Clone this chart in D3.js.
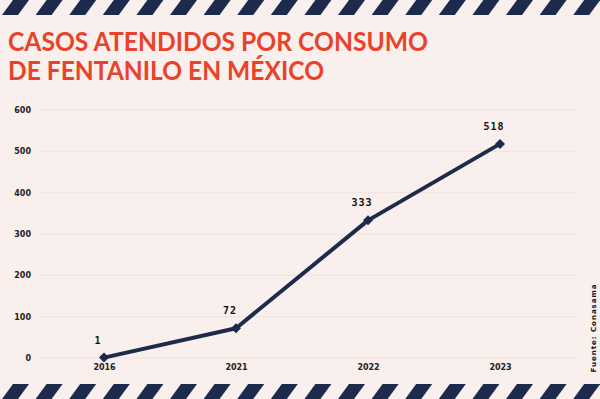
<!DOCTYPE html>
<html>
<body style="margin: 0">
  <script src="https://d3js.org/d3.v7.min.js"></script>

  <script>
    const years = ["2016", "2021", "2022", "2023"];
    const casos = [1, 72, 333, 518];
    const yTicks = [0, 100, 200, 300, 400, 500, 600];
    const titleLines = ["CASOS ATENDIDOS POR CONSUMO", "DE FENTANILO EN MÉXICO"];
    const fuente = "Fuente: Conasama";

    const W = 600, H = 399;
    const NAVY = "#1c2a4b";
    const RED = "#e8432a";
    const BG = "#f9efec";

    const svg = d3.select("body").append("svg")
      .attr("width", W)
      .attr("height", H)
      .style("display", "block");

    svg.append("rect").attr("width", W).attr("height", H).attr("fill", BG);

    // striped bands top and bottom
    const stripes = d3.range(-2, 20);
    const drawBand = (y0, h) => {
      svg.append("g").selectAll("path")
        .data(stripes)
        .enter()
        .append("path")
        .attr("d", (i) => {
          const x = 2 + i * 33.6;
          return `M${x},${y0 + h} L${x + 16},${y0 + h} L${x + 27},${y0} L${x + 11},${y0} Z`;
        })
        .attr("fill", NAVY);
    };
    drawBand(0, 15);
    drawBand(384, 15);

    // title
    svg.append("g").selectAll("text")
      .data(titleLines)
      .enter()
      .append("text")
      .attr("x", 8)
      .attr("y", (d, i) => 51 + i * 29)
      .attr("fill", RED)
      .attr("textLength", (d, i) => i === 0 ? 420 : 316)
      .attr("lengthAdjust", "spacingAndGlyphs")
      .style("font-family", "Lato, 'Open Sans', sans-serif")
      .style("font-weight", "bold")
      .style("font-size", "26px")
      .text((d) => d);

    const x = d3.scalePoint().domain(years).range([104, 500]);
    const y = d3.scaleLinear().domain([0, 600]).range([358, 110]);

    // grid
    svg.append("g").selectAll("line")
      .data(yTicks)
      .enter()
      .append("line")
      .attr("x1", 40).attr("x2", 578)
      .attr("y1", (d) => y(d)).attr("y2", (d) => y(d))
      .attr("stroke", "#f1e2de")
      .attr("stroke-width", 1);

    const yAxis = svg.append("g")
      .attr("transform", "translate(31,0)")
      .call(d3.axisLeft(y).tickValues(yTicks).tickSize(0).tickPadding(0));
    yAxis.select(".domain").remove();
    yAxis.selectAll("text")
      .attr("fill", "#222")
      .style("font-family", "'DejaVu Sans', sans-serif")
      .style("font-weight", "bold")
      .style("font-size", "8px");

    const xAxis = svg.append("g")
      .attr("transform", "translate(0,364)")
      .call(d3.axisBottom(x).tickSize(0).tickPadding(0));
    xAxis.select(".domain").remove();
    xAxis.selectAll("text")
      .attr("fill", "#222")
      .style("font-family", "'DejaVu Sans', sans-serif")
      .style("font-weight", "bold")
      .style("font-size", "8px");

    const line = d3.line()
      .x((d, i) => x(years[i]))
      .y((d) => y(d));

    svg.append("path")
      .datum(casos)
      .attr("d", line)
      .attr("fill", "none")
      .attr("stroke", NAVY)
      .attr("stroke-width", 4)
      .attr("stroke-linejoin", "round");

    svg.append("g").selectAll("path")
      .data(casos)
      .enter()
      .append("path")
      .attr("d", d3.symbol().type(d3.symbolSquare).size(50))
      .attr("transform", (d, i) => `translate(${x(years[i])},${y(d)}) rotate(45)`)
      .attr("fill", NAVY);

    svg.append("g").selectAll("text")
      .data(casos)
      .enter()
      .append("text")
      .attr("x", (d, i) => x(years[i]) - 6)
      .attr("y", (d) => y(d) - 14)
      .attr("text-anchor", "middle")
      .attr("fill", "#111")
      .style("font-family", "'DejaVu Sans Mono', monospace")
      .style("font-weight", "bold")
      .style("font-size", "10px")
      .style("letter-spacing", "1px")
      .text((d) => d);

    svg.append("text")
      .attr("transform", "translate(596,328) rotate(-90)")
      .attr("text-anchor", "middle")
      .attr("fill", "#111")
      .style("font-family", "'DejaVu Sans', sans-serif")
      .style("font-weight", "bold")
      .style("font-size", "7px")
      .style("letter-spacing", "1px")
      .text(fuente);
  </script>
</body>
</html>
